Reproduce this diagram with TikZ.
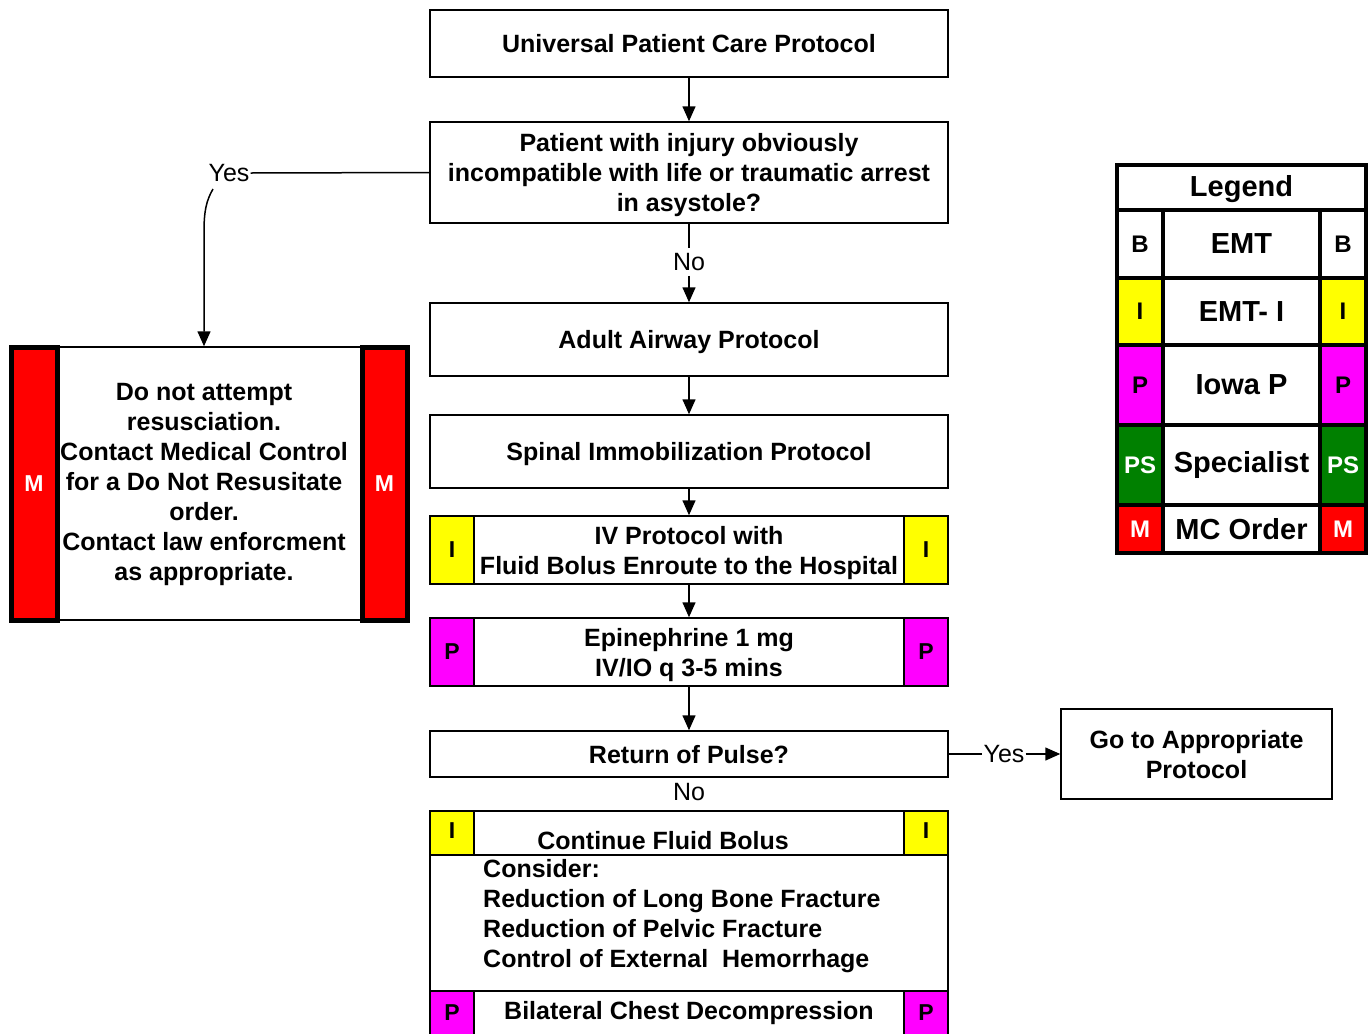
\documentclass[tikz,border=0pt]{standalone}
\usepackage{fontspec}
\setmainfont{Liberation Sans}
\usetikzlibrary{arrows.meta}
\definecolor{tagyellow}{RGB}{255,255,0}
\definecolor{tagmag}{RGB}{255,0,255}
\definecolor{taggreen}{RGB}{0,128,0}
\definecolor{tagred}{RGB}{255,0,0}
\begin{document}
\begin{tikzpicture}[x=1pt,y=-1pt,
  box/.style={draw, line width=1.5pt, fill=white, align=center, inner sep=0pt, minimum width=518pt, text depth=0pt, font=\bfseries\fontsize{25}{30}\selectfont},
  txt/.style={inner sep=0pt, font=\bfseries\fontsize{25}{30}\selectfont},
  tagtxt/.style={inner sep=0pt, font=\bfseries\fontsize{23}{26}\selectfont},
  tagbox/.style={draw, line width=1.5pt, inner sep=0pt, minimum width=44pt, font=\bfseries\fontsize{23}{26}\selectfont},
  lbl/.style={font=\fontsize{25}{28}\selectfont, inner sep=1pt, fill=white},
  arr/.style={line width=1.5pt, -{Triangle[length=15pt,width=13pt]}},
  ln/.style={line width=1.5pt},
  bar/.style={draw, line width=5pt, fill=tagred, inner sep=0pt, text=white, font=\bfseries\fontsize{23}{26}\selectfont, minimum height=273pt},
  lcell/.style={draw, line width=4.5pt, inner sep=0pt, align=center},
  lsmall/.style={lcell, minimum width=46pt, font=\bfseries\fontsize{24}{26}\selectfont},
  lmid/.style={lcell, fill=white, minimum width=157pt, font=\bfseries\fontsize{29}{32}\selectfont},
]
\useasboundingbox (0,0) rectangle (1369,1034);

% main column
\node[box, minimum height=67pt] (b1) at (689,43.5) {Universal Patient Care Protocol};
\node[box, minimum height=101pt] (b2) at (689,172.5) {Patient with injury obviously\\incompatible with life or traumatic arrest\\in asystole?};
\node[box, minimum height=73pt] (b3) at (689,339.5) {Adult Airway Protocol};
\node[box, minimum height=73pt] (b4) at (689,451.5) {Spinal Immobilization Protocol};
\node[box, minimum height=68pt] (b5) at (689,550) {IV Protocol with\\Fluid Bolus Enroute to the Hospital};
\node[tagbox, fill=tagyellow, minimum height=68pt] (b5l) at (452,550) {I};
\node[tagbox, fill=tagyellow, minimum height=68pt] (b5r) at (926,550) {I};
\node[box, minimum height=68pt] (b6) at (689,652) {Epinephrine 1 mg\\IV/IO q 3-5 mins};
\node[tagbox, fill=tagmag, minimum height=68pt] (b6l) at (452,652) {P};
\node[tagbox, fill=tagmag, minimum height=68pt] (b6r) at (926,652) {P};
\node[box, minimum height=46pt] (b7) at (689,754) {Return of Pulse?};
\node[box, minimum width=271pt, minimum height=90pt] (b8) at (1196.5,754) {Go to Appropriate\\Protocol};

% bottom compound box
\node[box, minimum height=44pt] (b9a) at (689,833) {};
\node[txt] (b9at) at (663,841) {Continue Fluid Bolus};
\node[tagbox, fill=tagyellow, minimum height=44pt] (b9al) at (452,833) {};
\node[tagtxt] at (452,831) {I};
\node[tagbox, fill=tagyellow, minimum height=44pt] (b9ar) at (926,833) {};
\node[tagtxt] at (926,831) {I};
\node[box, minimum height=136pt] (b9b) at (689,923) {};
\node[txt, anchor=west, align=left] (b9bt) at (483,916) {Consider:\\Reduction of Long Bone Fracture\\Reduction of Pelvic Fracture\\Control of External\ \ Hemorrhage};
\node[box, minimum height=50pt] (b9c) at (689,1016) {};
\node[txt] (b9ct) at (689,1013) {Bilateral Chest Decompression};
\node[tagbox, fill=tagmag, minimum height=50pt] (b9cl) at (452,1016) {};
\node[tagtxt] at (452,1013) {P};
\node[tagbox, fill=tagmag, minimum height=50pt] (b9cr) at (926,1016) {};
\node[tagtxt] at (926,1013) {P};

% DNR box
\node[box, minimum width=303pt, minimum height=273pt] (dnr) at (209.5,483.5) {};
\node[txt, align=center] (dnrt) at (204,484) {Do not attempt\\resusciation.\\Contact Medical Control\\for a Do Not Resusitate\\order.\\Contact law enforcment\\as appropriate.};
\node[bar, minimum width=46pt] (dnrl) at (34,483.5) {M};
\node[bar, minimum width=45pt] (dnrr) at (384.5,483.5) {M};

% connectors
\draw[arr] (b1.south) -- (b2.north);
\node[lbl, inner ysep=5pt] (no1) at (689,262) {No};
\draw[ln] (b2.south) -- (no1.north);
\draw[arr] (no1.south) -- (b3.north);
\draw[arr] (b3.south) -- (b4.north);
\draw[arr] (b4.south) -- (b5.north);
\draw[arr] (b5.south) -- (b6.north);
\draw[arr] (b6.south) -- (b7.north);
\node[lbl, inner sep=0pt, minimum width=38pt, minimum height=28pt] (no2) at (689,792) {No};
\node[lbl] (yes2) at (1004,754) {Yes};
\draw[ln] (b7.east) -- (yes2.west);
\draw[arr] (yes2.east) -- (b8.west);
\node[lbl] (yes1) at (229,173) {Yes};
\draw[ln] (b2.west) -- (yes1.east);
\coordinate (ys) at (213,189);
\coordinate (yv) at (204,232);
\draw[arr] (ys) .. controls (206,201) and (204,212) .. (yv) -- (yv |- dnr.north);

% legend
\node[lcell, fill=white, minimum width=249pt, minimum height=45pt] (lg) at (1241.5,187.5) {};
\node[inner sep=0pt, font=\bfseries\fontsize{29}{32}\selectfont] (lgt) at (1241.5,189) {Legend};
\node[lsmall, fill=white, minimum height=68pt] (lb1) at (1140,244) {B};
\node[lmid, minimum height=68pt] (lb2) at (1241.5,244) {EMT};
\node[lsmall, fill=white, minimum height=68pt] (lb3) at (1343,244) {B};
\node[lsmall, fill=tagyellow, minimum height=67pt] (li1) at (1140,311.5) {I};
\node[lmid, minimum height=67pt] (li2) at (1241.5,311.5) {EMT- I};
\node[lsmall, fill=tagyellow, minimum height=67pt] (li3) at (1343,311.5) {I};
\node[lsmall, fill=tagmag, minimum height=80pt] (lp1) at (1140,385) {P};
\node[lmid, minimum height=80pt] (lp2) at (1241.5,385) {Iowa P};
\node[lsmall, fill=tagmag, minimum height=80pt] (lp3) at (1343,385) {P};
\node[lsmall, fill=taggreen, text=white, minimum height=80pt] (ls1) at (1140,465) {PS};
\node[lmid, minimum height=80pt] (ls2) at (1241.5,465) {Specialist};
\node[lsmall, fill=taggreen, text=white, minimum height=80pt] (ls3) at (1343,465) {PS};
\node[lsmall, fill=tagred, text=white, minimum height=48pt] (lm1) at (1140,529) {M};
\node[lmid, minimum height=48pt] (lm2) at (1241.5,529) {MC Order};
\node[lsmall, fill=tagred, text=white, minimum height=48pt] (lm3) at (1343,529) {M};
\end{tikzpicture}
\end{document}
